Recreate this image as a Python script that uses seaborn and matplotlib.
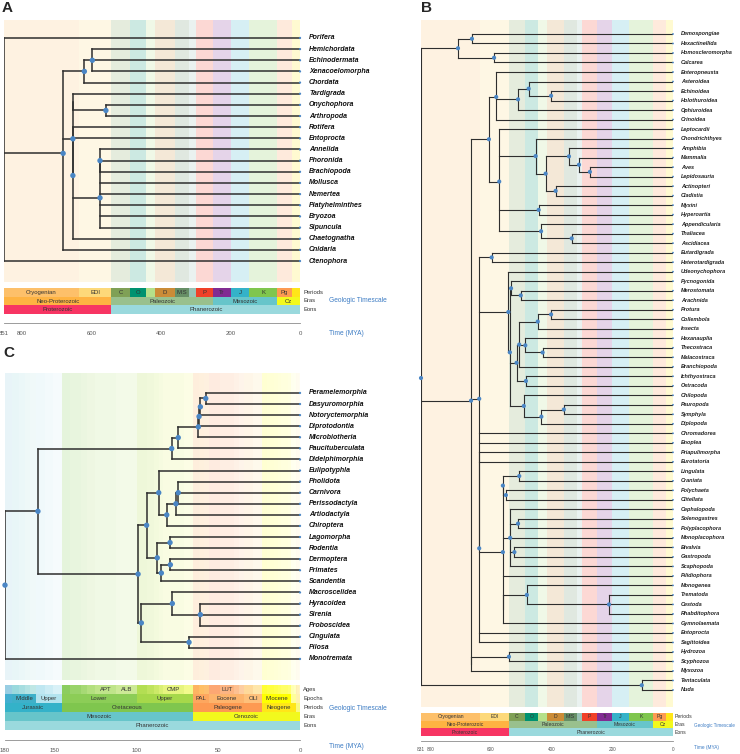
import numpy as np
import pandas as pd
import matplotlib.pyplot as plt
import seaborn as sns

W, H = 740, 754
DOT = "#4a86c5"
EDGE = "#2e2e2e"
LINK = "#3d7cc4"
INK = "#333333"
NARROW = ["Liberation Sans Narrow", "Liberation Sans", "DejaVu Sans"]

# =====================================================
# Geologic timescale (MYA); each cell runs to the next start
# =====================================================
PERIOD_LABELS = ["Cryogenian", "EDI", "C", "O", "", "D", "MIS", "", "P", "Tr", "J", "K", "Pg", ""]
PERIOD_START = [1000, 635, 542, 488.3, 443.7, 416, 359.2, 318.1, 299, 251, 199.6, 145.5, 65.5, 23.03]
PERIOD_COLORS = ["#fdc06a", "#fdd97a", "#7fa056", "#009270", "#b5e08a", "#cb8c37", "#678f66",
                 "#99c2b5", "#f04028", "#812b92", "#34b2c9", "#7fc64e", "#fd9a52", "#ffe619"]
ERA_LABELS = ["Neo-Proterozoic", "Paleozoic", "Mesozoic", "Cz"]
ERA_START = [1000, 542, 251, 65.5]
ERA_COLORS = ["#feb342", "#99c08d", "#67c5ca", "#f2f91d"]
EON_LABELS = ["Proterozoic", "Phanerozoic"]
EON_START = [2500, 542]
EON_COLORS = ["#f73563", "#9ad9dd"]

# panel C finer scale
C_STAGE_LABELS = [""] * 12 + ["APT", "ALB"] + [""] * 4 + ["CMP"] + [""] * 5 + ["LUT"] + [""] * 15
C_STAGE_START = [183, 175.6, 171.6, 167.7, 164.7, 161.2, 155.6, 150.8, 145.5, 140.2, 133.9, 130,
                 125, 112, 99.6, 93.5, 89.3, 85.8, 83.5, 70.6, 65.5, 61.7, 58.7, 55.8, 48.6, 40.4,
                 37.2, 33.9, 28.4, 23.03, 20.43, 15.97, 13.65, 11.61, 7.25, 5.33, 3.6, 2.59, 1.81, 0.78]
C_STAGE_COLORS = ["#99cee3", "#9ad9dd", "#a6dde0", "#b3e2e3", "#bfe7e5", "#bfe7f1", "#ccecf4",
                  "#d9f1f7", "#8ccd60", "#99d36a", "#a6d975", "#b3df7f", "#bfe48a", "#cce997",
                  "#b3de53", "#bfe35d", "#cce968", "#d9ef74", "#e6f47f", "#f2fa8c", "#fdb462",
                  "#febf65", "#fdbf6f", "#fca773", "#fcb482", "#fdc091", "#fdcda1", "#fed99a",
                  "#fee6aa", "#ffff33", "#ffff41", "#ffff4d", "#ffff59", "#ffff66", "#ffff73",
                  "#ffffb3", "#ffffbf", "#ffedb3", "#fff2ba", "#fff2c7"]
C_EPOCH_LABELS = ["", "Middle", "Upper", "Lower", "Upper", "PAL", "Eocene", "OLI", "Miocene", "", ""]
C_EPOCH_START = [199.6, 175.6, 161.2, 145.5, 99.6, 65.5, 55.8, 33.9, 23.03, 5.33, 2.59]
C_EPOCH_COLORS = ["#42aed0", "#3fb0c9", "#b3e3ee", "#8ccd57", "#a6d84a", "#fda75f", "#fdb46c",
                  "#fec07a", "#ffff00", "#ffff99", "#fff2ae"]
C_PERIOD_LABELS = ["Jurassic", "Cretaceous", "Paleogene", "Neogene", ""]
C_PERIOD_START = [199.6, 145.5, 65.5, 23.03, 2.59]
C_PERIOD_COLORS = ["#34b2c9", "#7fc64e", "#fd9a52", "#ffe619", "#f9f97f"]

# =====================================================
# Trees: (node age, has dot, children...), tips are names
# =====================================================
A_AGE = 851
A_TICKS = [851, 800, 600, 400, 200, 0]
A_TREE = (851, False,
          "Porifera",
          (681, True,
           (620, True, (597, True, "Hemichordata", "Echinodermata", "Xenacoelomorpha"), "Chordata"),
           (653, True,
            (653, False, "Tardigrada", (558, True, "Onychophora", "Arthropoda")),
            (653, True, "Rotifera", "Entoprocta",
             (575, True, (575, True, "Annelida", "Phoronida", "Brachiopoda"),
              "Mollusca", "Nemertea", "Platyhelminthes", "Bryozoa", "Sipuncula"),
             "Chaetognatha")),
           "Cnidaria"),
          "Ctenophora")

B_AGE = 831
B_TICKS = [831, 800, 600, 400, 200, 0]
B_DEUT = (607, True,
          (583, True, "Enteropneusta",
           (511, True, (476, True, "Asteroidea", (402, True, "Echinoidea", "Holothuroidea")), "Ophiuroidea"),
           "Crinoidea"),
          (573, True, "Leptocardii",
           (453, True, "Chondrichthyes",
            (420, True,
             (343, True, "Amphibia", (310, True, "Mammalia", (274, True, "Aves", "Lepidosauria"))),
             (387, True, "Actinopteri", "Cladistia"))),
           (443, True, "Myxini", "Hyperoartia"),
           (435, True, "Appendicularia", (334, True, "Thaliacea", "Ascidiacea"))))
B_PANARTH = (543, True, "Udeonychophora",
             (538, True,
              (534, True, "Pycnogonida", (502, True, "Merostomata", "Arachnida")),
              (516, True,
               (507, True,
                (446, True, (402, True, "Protura", "Collembola"), "Insecta"),
                (487, True, "Hexanauplia", (430, True, "Thecostraca", "Malacostraca")),
                "Branchiopoda"),
               (485, True, "Ichthyostraca", "Ostracoda")),
              (492, True, "Chilopoda", (434, True, (360, True, "Pauropoda", "Symphyla"), "Diplopoda"))))
B_SPIRAL = (561, True,
            (561, True, (507, True, "Lingulata", "Craniata"), (551, True, "Polychaeta", "Clitellata")),
            (537, True, "Cephalopoda", (511, True, "Solenogastres", "Polyplacophora"), "Monoplacophora",
             (523, True, "Bivalvia", "Gastropoda"), "Scaphopoda"),
            "Pilidiophora",
            (561, False, (482, True, "Monogenea", (211, True, "Trematoda", "Cestoda", "Rhabditophora")),
             "Gymnolaemata"))
B_TREE = (831, True,
          (709, True, (663, True, "Demospongiae", "Hexactinellida"), (590, True, "Homoscleromorpha", "Calcarea")),
          (666, True,
           B_DEUT,
           (639, True, (598, True, "Eutardigrada", "Heterotardigrada"), B_PANARTH, "Chromadorea", "Enoplea",
            (639, True, "Priapulimorpha", "Eurotatoria", B_SPIRAL, "Entoprocta", "Sagittoidea")),
           (666, False, (541, True, "Hydrozoa", "Scyphozoa"), "Myxozoa")),
          (103, True, "Tentaculata", "Nuda"))

C_AGE = 180
C_TICKS = [180, 150, 100, 50, 0]
C_TREE = (180, True,
          (159.9, True,
           (78.3, True,
            (74.3, True,
             (62.0, True,
              (61.6, True,
               (60.8, True, (57.5, True, "Peramelemorphia", "Dasyuromorphia"), "Notoryctemorphia"),
               "Diprotodontia"),
              "Microbiotheria"),
             "Paucituberculata"),
            "Didelphimorphia"),
           (98.8, True,
            (93.6, True,
             (86.2, True, "Eulipotyphla",
              (81.3, True, (75.7, True, (74.3, True, "Pholidota", "Carnivora", "Perissodactyla"), "Artiodactyla"),
               "Chiroptera")),
             (87.1, True, (79.3, True, "Lagomorpha", "Rodentia"),
              (84.6, True, (79.1, True, "Dermoptera", "Primates"), "Scandentia"))),
            (96.8, True,
             (77.9, True, "Macroscelidea", (60.8, True, "Hyracoidea", "Sirenia", "Proboscidea")),
             (67.7, True, "Cingulata", "Pilosa")))),
          "Monotremata")


def box(x0, y0, x1, y1):
    return [x0 / W, 1 - y1 / H, (x1 - x0) / W, (y1 - y0) / H]


def layout(tree):
    """Rectangular tree layout: tips on rows, nodes at mean of children."""
    hor, ver, pts, tips = [], [], [], []
    nxt = [0]

    def walk(node, parent):
        if isinstance(node, str):
            y = nxt[0]
            nxt[0] += 1
            tips.append((node, y))
            hor.append((y, 0.0, parent))
            return y
        age, dot, *kids = node
        ys = [walk(k, age) for k in kids]
        y = float(np.mean(ys))
        ver.append((age, min(ys), max(ys)))
        if parent is not None:
            hor.append((y, age, parent))
        if dot:
            pts.append((age, y))
        return y

    walk(tree, None)
    return hor, ver, pd.DataFrame(pts, columns=["age", "y"]), pd.DataFrame(tips, columns=["name", "y"])


def draw_tree(ax, tree, root_age, ylim, bg, lw, dot_s, fs, dx, color):
    starts, colors, alpha = bg
    ends = starts[1:] + [0]
    for s, e, c in zip(starts, ends, colors):
        ax.axvspan(e, s, color=c, alpha=alpha, lw=0, zorder=0)

    hor, ver, pts, tips = layout(tree)
    hy, hx0, hx1 = zip(*hor)
    ax.hlines(hy, hx0, hx1, color=EDGE, lw=lw, capstyle="projecting", zorder=2)
    vx, vy0, vy1 = zip(*ver)
    ax.vlines(vx, vy0, vy1, color=EDGE, lw=lw, capstyle="projecting", zorder=2)
    sns.scatterplot(data=pts, x="age", y="y", ax=ax, color=DOT, s=dot_s,
                    edgecolor="none", zorder=5, clip_on=False)
    tips["age"] = 0.0
    sns.scatterplot(data=tips, x="age", y="y", ax=ax, color=DOT, s=dot_s * 0.18,
                    edgecolor="none", zorder=5, clip_on=False)
    for name, y in zip(tips["name"], tips["y"]):
        ax.annotate(name, (0, y), xytext=(dx, 0), textcoords="offset points",
                    ha="left", va="center", fontsize=fs, fontweight="bold",
                    fontstyle="italic", color=color, annotation_clip=False)
    ax.set_xlim(root_age, 0)
    ax.set_ylim(*ylim)
    ax.set_axis_off()


def draw_scale(ax, rows, root_age, fs, names, name_fs, dx):
    for r, (labels, starts, colors) in enumerate(rows):
        ends = starts[1:] + [0]
        for lab, s, e, c in zip(labels, starts, ends, colors):
            ax.barh(r + 0.5, s - e, left=e, height=1.0, color=c, lw=0)
            if lab:
                mid = (min(s, root_age) + e) / 2
                ax.text(mid, r + 0.52, lab, ha="center", va="center", fontsize=fs,
                        color=INK, family=NARROW)
    for r, name in enumerate(names):
        ax.annotate(name, (0, r + 0.5), xytext=(dx, 0), textcoords="offset points",
                    ha="left", va="center", fontsize=name_fs, color=INK,
                    family=NARROW, annotation_clip=False)
    ax.set_xlim(root_age, 0)
    ax.set_ylim(len(rows), 0)
    ax.set_axis_off()


def draw_time_axis(ax, root_age, ticks, fs, tick_len=4.5, pad=1.5):
    ax.set_xlim(root_age, 0)
    ax.set_ylim(0, 1)
    ax.set_xticks(ticks)
    ax.set_xticklabels([str(t) for t in ticks], family=NARROW)
    ax.set_yticks([])
    for s in ["top", "left", "right"]:
        ax.spines[s].set_visible(False)
    ax.spines["bottom"].set_color("#8c8c8c")
    ax.spines["bottom"].set_linewidth(0.6)
    ax.tick_params(axis="x", direction="out", length=tick_len, width=0.6, color="#8c8c8c",
                   labelsize=fs, labelcolor="#555555", pad=pad)
    ax.patch.set_alpha(0)


sns.set_theme(style="white")
plt.rcParams["font.family"] = ["Liberation Sans", "DejaVu Sans"]

fig = plt.figure(figsize=(W / 100, H / 100), dpi=100)

big_rows = [(PERIOD_LABELS, PERIOD_START, PERIOD_COLORS),
            (ERA_LABELS, ERA_START, ERA_COLORS),
            (EON_LABELS, EON_START, EON_COLORS)]
big_names = ["Periods", "Eras", "Eons"]

# ---- A ----
ax = fig.add_axes(box(4, 20, 300, 282))
draw_tree(ax, A_TREE, A_AGE, (21.88, -1.61), (PERIOD_START, PERIOD_COLORS, 0.2),
          lw=1.1, dot_s=15, fs=5, dx=6.5, color="#111111")
ax = fig.add_axes(box(4, 288, 300, 314))
draw_scale(ax, big_rows, A_AGE, 4.3, big_names, 4.2, 2.2)
ax = fig.add_axes(box(4, 318, 300, 323))
draw_time_axis(ax, A_AGE, A_TICKS, 4.3)
fig.text(329 / W, 1 - 301 / H, "Geologic Timescale", color=LINK, fontsize=4.8, va="center", family=NARROW)
fig.text(329 / W, 1 - 333 / H, "Time (MYA)", color=LINK, fontsize=4.8, va="center", family=NARROW)

# ---- B ----
ax = fig.add_axes(box(421, 20, 673, 707))
draw_tree(ax, B_TREE, B_AGE, (70.79, -1.47), (PERIOD_START, PERIOD_COLORS, 0.2),
          lw=0.8, dot_s=9, fs=4, dx=5.8, color="#222222")
ax = fig.add_axes(box(421, 713, 673, 736))
draw_scale(ax, big_rows, B_AGE, 3.7, big_names, 3.7, 1.5)
ax = fig.add_axes(box(421, 737, 673, 741))
draw_time_axis(ax, B_AGE, B_TICKS, 3.4, tick_len=3.5, pad=0.6)
fig.text(694 / W, 1 - 725 / H, "Geologic Timescale", color=LINK, fontsize=3.3, va="center", family=NARROW)
fig.text(694 / W, 1 - 748 / H, "Time (MYA)", color=LINK, fontsize=3.4, va="center", family=NARROW)

# ---- C ----
c_rows = [(C_STAGE_LABELS, C_STAGE_START, C_STAGE_COLORS),
          (C_EPOCH_LABELS, C_EPOCH_START, C_EPOCH_COLORS),
          (C_PERIOD_LABELS, C_PERIOD_START, C_PERIOD_COLORS),
          (["Mesozoic", "Cenozoic"], [251, 65.5], ["#67c5ca", "#f2f91d"]),
          (["Phanerozoic"], [542], ["#9ad9dd"])]
ax = fig.add_axes(box(5, 373, 300, 680))
draw_tree(ax, C_TREE, C_AGE, (25.9, -1.8), (C_STAGE_START, C_STAGE_COLORS, 0.22),
          lw=1.1, dot_s=15, fs=5, dx=6.5, color="#111111")
ax = fig.add_axes(box(5, 685, 300, 730))
draw_scale(ax, c_rows, C_AGE, 4.3, ["Ages", "Epochs", "Periods", "Eras", "Eons"], 4.2, 2.2)
ax = fig.add_axes(box(5, 735, 300, 740))
draw_time_axis(ax, C_AGE, C_TICKS, 4.3)
fig.text(329 / W, 1 - 708 / H, "Geologic Timescale", color=LINK, fontsize=4.8, va="center", family=NARROW)
fig.text(329 / W, 1 - 746 / H, "Time (MYA)", color=LINK, fontsize=4.8, va="center", family=NARROW)

# panel letters
for letter, x, y in [("A", 2, 8), ("B", 421, 8), ("C", 3, 353)]:
    fig.text(x / W, 1 - y / H, letter, fontsize=11, fontweight="bold", va="center", ha="left")

fig.savefig("out.png", dpi=100)
